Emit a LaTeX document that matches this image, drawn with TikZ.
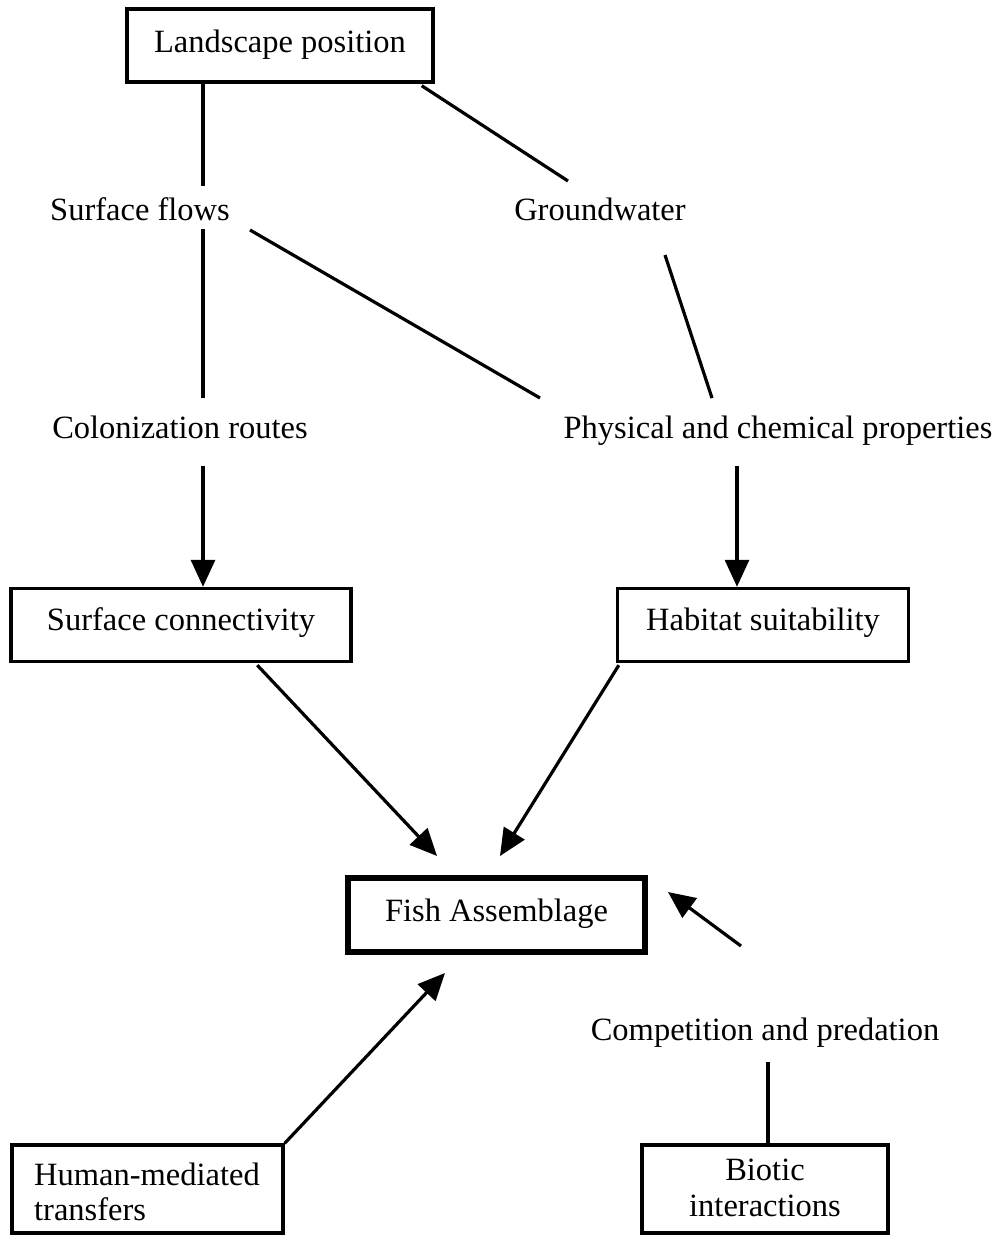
\documentclass[tikz,border=0pt]{standalone}
\usepackage{fontspec}
\setmainfont{Liberation Serif}
\usetikzlibrary{arrows.meta,calc}
\begin{document}
\begin{tikzpicture}[x=1pt,y=-1pt,
  lbl/.style={font=\fontsize{32.5}{38}\selectfont, anchor=base, inner sep=0pt},
  box/.style={draw, line width=3.4pt},
  conn/.style={line width=3.2pt},
  arr/.style={line width=3.2pt, -{Triangle[length=27pt,width=24pt]}}]
\useasboundingbox (0,0) rectangle (1002,1243);
% boxes
\node[box, minimum width=306pt, minimum height=73pt] (land) at (280,45.5) {};
\node[lbl] (landt) at (280,52) {Landscape position};
\node[box, minimum width=340pt, minimum height=73pt] (sc) at (181,625) {};
\node[lbl] (sct) at (181,630) {Surface connectivity};
\node[box, minimum width=291pt, minimum height=73pt] (hs) at (763,625) {};
\node[lbl] (hst) at (763,630) {Habitat suitability};
\node[draw, line width=5.5pt, minimum width=297pt, minimum height=74pt] (fish) at (496.5,915) {};
\node[lbl] (fisht) at (496.5,921) {Fish Assemblage};
\node[box, minimum width=271pt, minimum height=88pt] (hm) at (147.5,1189) {};
\node[lbl, anchor=base west] (hmt1) at (34,1185) {Human-mediated};
\node[lbl, anchor=base west] (hmt2) at (34,1220) {transfers};
\node[box, minimum width=246pt, minimum height=88pt] (bi) at (765,1189) {};
\node[lbl] (bit1) at (765,1180) {Biotic};
\node[lbl] (bit2) at (765,1216) {interactions};
% free text
\node[lbl] (sf) at (140,220) {Surface flows};
\node[lbl] (gw) at (600,220) {Groundwater};
\node[lbl] (cr) at (180,438) {Colonization routes};
\node[lbl] (pc) at (778,438) {Physical and chemical properties};
\node[lbl] (cp) at (765,1040) {Competition and predation};
% connector end points
\coordinate (sfN) at (203,186);
\coordinate (sfS) at (203,229);
\coordinate (sfE) at (250,230);
\coordinate (gwN) at (568,181);
\coordinate (gwS) at (665,255);
\coordinate (crN) at (203,398);
\coordinate (crS) at (203,466);
\coordinate (pcN) at (540,398);
\coordinate (pcNE) at (712,398);
\coordinate (pcS) at (737,466);
\coordinate (cpN) at (741,946);
\coordinate (cpS) at (768,1062);
\coordinate (fishL) at (437,856);
\coordinate (fishR) at (500,856);
\coordinate (fishB) at (445,973);
\coordinate (fishE) at (668,892);
% connectors
\draw[conn] (land.south -| sfN) -- (sfN);
\draw[conn] ($(land.south east)+(-13,2)$) -- (gwN);
\draw[conn] (sfS) -- (crN);
\draw[conn] (sfE) -- (pcN);
\draw[conn] (gwS) -- (pcNE);
\draw[arr] (crS) -- (sc.north -| crS);
\draw[arr] (pcS) -- (hs.north -| pcS);
\draw[arr] ($(sc.south west)+(248,2)$) -- (fishL);
\draw[arr] ($(hs.south west)+(3,2)$) -- (fishR);
\draw[arr] (hm.north east) -- (fishB);
\draw[arr] (cpN) -- (fishE);
\draw[conn] (bi.north -| cpS) -- (cpS);
\end{tikzpicture}
\end{document}
